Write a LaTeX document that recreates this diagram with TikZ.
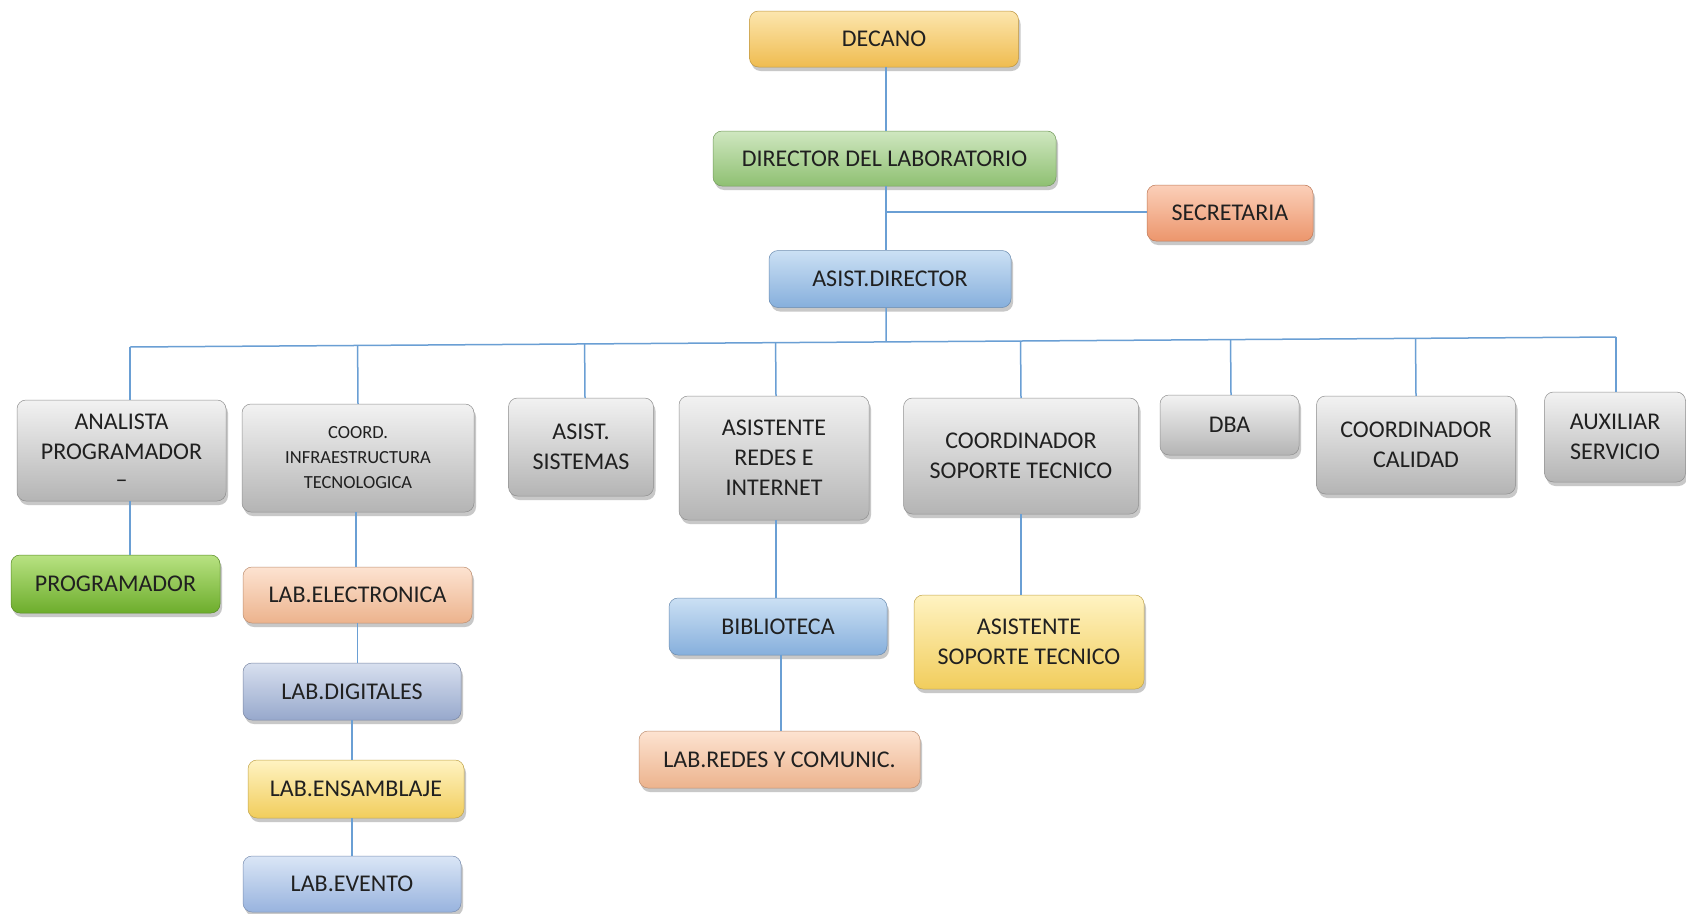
\documentclass[tikz,border=0pt]{standalone}
\usepackage{fontspec}
\setmainfont{Carlito}
\usetikzlibrary{shadows,calc}

\definecolor{linkc}{HTML}{6A9FD4}
\definecolor{textc}{HTML}{202020}
% box palettes: light top, middle, darker bottom
\definecolor{goldA}{HTML}{FCE6AE}\definecolor{goldB}{HTML}{F9D27A}\definecolor{goldC}{HTML}{EFBC50}
\definecolor{leafA}{HTML}{CFE7C0}\definecolor{leafB}{HTML}{ABD492}\definecolor{leafC}{HTML}{8FC072}
\definecolor{salmA}{HTML}{FBCFB9}\definecolor{salmB}{HTML}{F5AE8C}\definecolor{salmC}{HTML}{EC966C}
\definecolor{skyA}{HTML}{CBE0F4}\definecolor{skyB}{HTML}{A6C8EA}\definecolor{skyC}{HTML}{86AFDC}
\definecolor{greyA}{HTML}{F2F2F2}\definecolor{greyB}{HTML}{D6D6D6}\definecolor{greyC}{HTML}{B4B4B4}
\definecolor{limeA}{HTML}{B8E282}\definecolor{limeB}{HTML}{8ECC48}\definecolor{limeC}{HTML}{6DAD2C}
\definecolor{peachA}{HTML}{FDE3D1}\definecolor{peachB}{HTML}{F8CCAF}\definecolor{peachC}{HTML}{ECB38D}
\definecolor{slateA}{HTML}{D8E0EF}\definecolor{slateB}{HTML}{B6C3DF}\definecolor{slateC}{HTML}{97A8CC}
\definecolor{lemonA}{HTML}{FFF3C2}\definecolor{lemonB}{HTML}{FFE48C}\definecolor{lemonC}{HTML}{F1CD5C}
\definecolor{paleA}{HTML}{DAE6F6}\definecolor{paleB}{HTML}{B8CDEB}\definecolor{paleC}{HTML}{98B3DE}

\tikzset{
  orgbox/.style={
    rectangle, rounded corners=9pt, inner sep=0pt, align=center,
    top color=#1A, middle color=#1B, bottom color=#1C,
    draw=#1C!80!black, line width=0.5pt,
    drop shadow={shadow xshift=2pt, shadow yshift=-4pt, opacity=0.30, fill=black!70},
    text=textc, font=\fontsize{24}{30}\selectfont},
  gold/.style={orgbox=gold},
  leaf/.style={orgbox=leaf},
  salmon/.style={orgbox=salm},
  sky/.style={orgbox=sky},
  grey/.style={orgbox=grey},
  lime/.style={orgbox=lime},
  peach/.style={orgbox=peach},
  slate/.style={orgbox=slate},
  lemon/.style={orgbox=lemon},
  pale/.style={orgbox=pale},
  link/.style={draw=linkc, line width=1.5pt},
  sz/.style 2 args={minimum width=#1pt, minimum height=#2pt}
}

\begin{document}
\begin{tikzpicture}[x=1pt, y=-1pt]
  \fill[white] (0,0) rectangle (1686,913);
  \useasboundingbox (0,0) rectangle (1686,913);

  % spine and (slightly tilted) bus
  \coordinate (tr) at (886,212);
  \coordinate (bl) at (130,347);
  \coordinate (br) at (1616,337);

  % top of the chart
  \node[gold,   sz={269}{56}] (dec)  at (884,39)     {DECANO};
  \node[leaf,   sz={343}{55}] (dir)  at (884.5,158.5){DIRECTOR DEL LABORATORIO};
  \node[salmon, sz={166}{56}] (sec)  at (1230,213)   {SECRETARIA};
  \node[sky,    sz={242}{57}] (adir) at (890,279)    {ASIST.DIRECTOR};

  % second row
  \node[grey, sz={209}{101}] (ana) at (121.5,450.5) {ANALISTA\\PROGRAMADOR\\[-2pt]–};
  \node[grey, sz={232}{108}, font=\fontsize{18.5}{25}\selectfont] (coo) at (358,458)
        {COORD.\\INFRAESTRUCTURA\\TECNOLOGICA};
  \node[grey, sz={145}{98}]  (sis) at (581,447)   {ASIST.\\SISTEMAS};
  \node[grey, sz={190}{124}] (red) at (774,458)   {ASISTENTE\\REDES E\\INTERNET};
  \node[grey, sz={235}{116}] (sop) at (1021,456)  {COORDINADOR\\SOPORTE TECNICO};
  \node[grey, sz={139}{60}]  (dba) at (1229.5,425){DBA};
  \node[grey, sz={199}{98}]  (cal) at (1416,445)  {COORDINADOR\\CALIDAD};
  \node[grey, sz={141}{90}]  (aux) at (1615,437)  {AUXILIAR\\SERVICIO};

  % lower levels
  \node[lime,  sz={209}{58}] (prog) at (115.5,584) {PROGRAMADOR};
  \node[peach, sz={229}{56}] (lel)  at (357.5,595) {LAB.ELECTRONICA};
  \node[slate, sz={218}{57}] (ldi)  at (352,691.5) {LAB.DIGITALES};
  \node[lemon, sz={216}{58}] (lens) at (356,789)   {LAB.ENSAMBLAJE};
  \node[pale,  sz={218}{56}] (lev)  at (352,884)   {LAB.EVENTO};
  \node[sky,   sz={218}{57}] (bib)  at (778,626.5) {BIBLIOTECA};
  \node[peach, sz={281}{57}] (lrc)  at (779.5,759.5) {LAB.REDES Y COMUNIC.};
  \node[lemon, sz={230}{94}] (ast)  at (1029,642)  {ASISTENTE\\SOPORTE TECNICO};

  % connectors
  \draw[link] (dec.south -| tr) -- (dir.north -| tr);
  \draw[link] (dir.south -| tr) -- (adir.north -| tr);
  \draw[link] (tr) -- (sec.west |- tr);
  \draw[link] (adir.south -| tr) -- ($(bl)!(adir.south -| tr)!(br)$);
  \draw[link] (bl) -- (br);

  \draw[link] (bl) -- (ana.north -| bl);
  \draw[link] ($(bl)!(coo.north)!(br)$) -- (coo.north);
  \draw[link] ($(bl)!([xshift=4pt]sis.north)!(br)$) -- ([xshift=4pt]sis.north);
  \draw[link] ($(bl)!([xshift=2pt]red.north)!(br)$) -- ([xshift=2pt]red.north);
  \draw[link] ($(bl)!(sop.north)!(br)$) -- (sop.north);
  \draw[link] ($(bl)!([xshift=1.5pt]dba.north)!(br)$) -- ([xshift=1.5pt]dba.north);
  \draw[link] ($(bl)!(cal.north)!(br)$) -- (cal.north);
  \draw[link] (br) -- (aux.north -| br);

  \draw[link] (ana.south -| bl) -- (prog.north -| bl);
  \draw[link] ([xshift=-2pt]coo.south) -- ([xshift=-2pt]coo.south |- lel.north);
  \draw[link] (lel.south) -- (lel.south |- ldi.north);
  \draw[link] (ldi.south) -- (ldi.south |- lens.north);
  \draw[link] ([xshift=-4pt]lens.south) -- ([xshift=-4pt]lens.south |- lev.north);
  \draw[link] ([xshift=2pt]red.south) -- ([xshift=2pt]red.south |- bib.north);
  \draw[link] ([xshift=3pt]bib.south) -- ([xshift=3pt]bib.south |- lrc.north);
  \draw[link] (sop.south) -- (sop.south |- ast.north);
\end{tikzpicture}
\end{document}
